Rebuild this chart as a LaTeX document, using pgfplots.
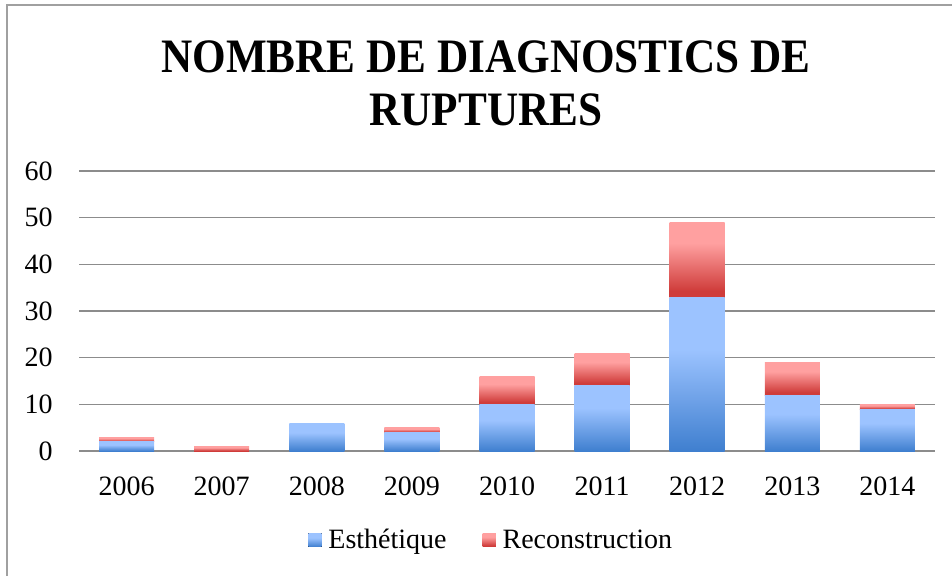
\documentclass[border=0pt]{standalone}
\usepackage{pgfplots}
\pgfplotsset{compat=1.18}
\usepackage{fontspec}
\setmainfont{Liberation Serif}
\newfontfamily\titlefont[FakeStretch=0.9]{Liberation Serif}
\definecolor{gridgray}{HTML}{8C8C8C}
\definecolor{framegray}{HTML}{A0A0A0}
\definecolor{bluetop}{HTML}{9CC3FF}
\definecolor{bluebot}{HTML}{3F7FCF}
\definecolor{redtop}{HTML}{FFA0A0}
\definecolor{redbot}{HTML}{CF3C3A}
\pgfdeclareverticalshading{blueshade}{100bp}{color(0bp)=(bluebot); color(25bp)=(bluebot); color(58bp)=(bluetop); color(75bp)=(bluetop); color(100bp)=(bluetop)}
\pgfdeclareverticalshading{redshade}{100bp}{color(0bp)=(redbot); color(25bp)=(redbot); color(29bp)=(redbot); color(61bp)=(redtop); color(75bp)=(redtop); color(100bp)=(redtop)}
\pgfplotsset{
  geom/.style={at={(59.25pt,93.75pt)}, anchor=south west,
    scale only axis, width=642pt, height=210pt,
    xmin=-0.5, xmax=8.5, ymin=0, ymax=60},
  baryear/.style={geom, hide axis, ybar stacked, bar width=41.25pt},
  esth/.style={draw=none, shading=blueshade},
  reco/.style={draw=none, shading=redshade},
}
\begin{document}
\begin{tikzpicture}[x=0.75pt,y=0.75pt]
\useasboundingbox (0,0) rectangle (952,576);
\draw[framegray, line width=1.2pt] (7,0) -- (7,571) -- (952,571);
\node[align=center, font=\titlefont\fontsize{36}{40}\selectfont\bfseries] at (486,492.5) {NOMBRE DE DIAGNOSTICS DE\\RUPTURES};
% frame axis: grid, ticks, legend
\begin{axis}[
  geom,
  ytick={0,10,...,60},
  xtick={0,...,8},
  xticklabels={2006,2007,2008,2009,2010,2011,2012,2013,2014},
  axis line style={draw=none},
  major tick length=0pt,
  ymajorgrids,
  grid style={gridgray, line width=1.1pt},
  tick label style={font=\fontsize{21}{25}\selectfont, inner sep=0pt},
  /pgf/number format/assume math mode=true,
  yticklabel shift=19.5pt,
  xticklabel shift=19pt,
  legend style={at={(0.482,-0.318)}, anchor=center, draw=none,
    font=\fontsize{21}{25}\selectfont, legend columns=2,
    /tikz/every odd column/.append style={column sep=3pt},
    /tikz/every even column/.append style={column sep=25pt}},
  legend image code/.code={\fill[#1] (0pt,-5pt) rectangle (10pt,5pt);},
]
\addlegendimage{esth}\addlegendentry{Esthétique}
\addlegendimage{reco}\addlegendentry{Reconstruction}
\end{axis}
% one stacked bar per year (each bar its own path, so each carries its own gradient)
\begin{axis}[baryear]
\addplot[esth] coordinates {(0,2)};
\addplot[reco] coordinates {(0,1)};
\end{axis}
\begin{axis}[baryear]
\addplot[reco] coordinates {(1,1)};
\end{axis}
\begin{axis}[baryear]
\addplot[esth] coordinates {(2,6)};
\end{axis}
\begin{axis}[baryear]
\addplot[esth] coordinates {(3,4)};
\addplot[reco] coordinates {(3,1)};
\end{axis}
\begin{axis}[baryear]
\addplot[esth] coordinates {(4,10)};
\addplot[reco] coordinates {(4,6)};
\end{axis}
\begin{axis}[baryear]
\addplot[esth] coordinates {(5,14)};
\addplot[reco] coordinates {(5,7)};
\end{axis}
\begin{axis}[baryear]
\addplot[esth] coordinates {(6,33)};
\addplot[reco] coordinates {(6,16)};
\end{axis}
\begin{axis}[baryear]
\addplot[esth] coordinates {(7,12)};
\addplot[reco] coordinates {(7,7)};
\end{axis}
\begin{axis}[baryear]
\addplot[esth] coordinates {(8,9)};
\addplot[reco] coordinates {(8,1)};
\end{axis}
\end{tikzpicture}
\end{document}
